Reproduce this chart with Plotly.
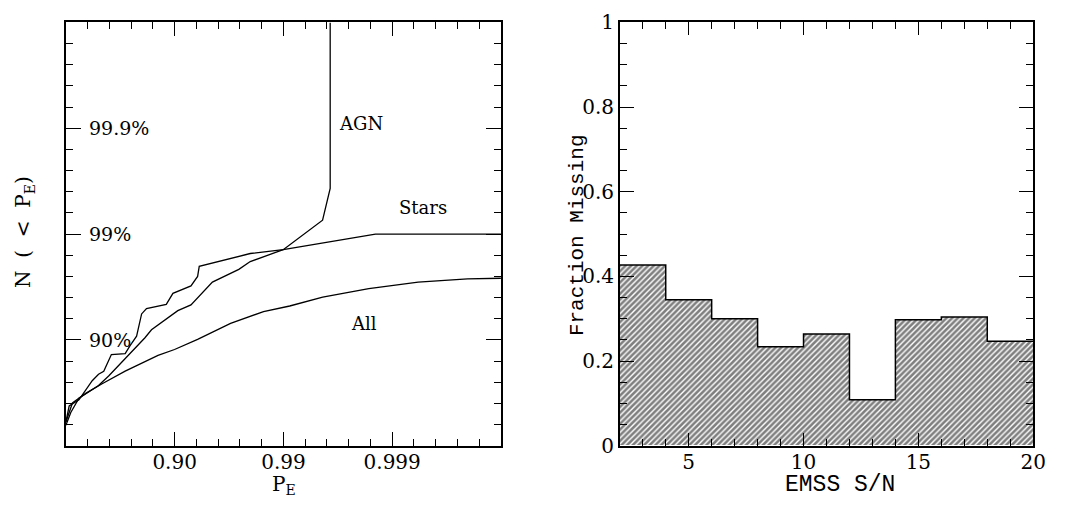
import plotly.graph_objects as go

# ---------------- Left panel data (axis units: -log10(1 - value)) ----------------
pe_tick_vals = [1, 2, 3]
pe_tick_text = ["0.90", "0.99", "0.999"]
conf_levels = [1, 2, 3]
conf_labels = ["90%", "99%", "99.9%"]

stars_x = [0, 0.03, 0.12, 0.242, 0.30, 0.348, 0.418, 0.545, 0.59, 0.65, 0.696, 0.741,
           0.923, 0.984, 1.15, 1.211, 1.226, 1.695, 1.998, 2.846, 4.0]
stars_y = [0.225, 0.376, 0.435, 0.615, 0.676, 0.705, 0.862, 0.871, 0.946, 1.036, 1.246, 1.297,
           1.336, 1.441, 1.511, 1.60, 1.696, 1.817, 1.853, 2.0, 2.0]

agn_x = [0, 0.045, 0.12, 0.30, 0.393, 0.545, 0.605, 0.727, 0.787, 1.029, 1.15, 1.347,
         1.59, 1.695, 1.998, 2.36, 2.43, 2.43]
agn_y = [0.195, 0.315, 0.45, 0.57, 0.66, 0.826, 0.886, 1.021, 1.096, 1.277, 1.331, 1.547,
         1.667, 1.741, 1.853, 2.132, 2.432, 4.0]

all_x = [0, 0.06, 0.182, 0.333, 0.545, 0.847, 0.999, 1.211, 1.514, 1.817, 2.058, 2.361,
         2.785, 3.239, 3.693, 4.0]
all_y = [0.225, 0.405, 0.495, 0.586, 0.705, 0.854, 0.91, 1.006, 1.156, 1.268, 1.321, 1.405,
         1.486, 1.547, 1.577, 1.583]

# ---------------- Right panel data ----------------
sn_edges = [2, 4, 6, 8, 10, 12, 14, 16, 18, 20]
frac_missing = [0.427, 0.345, 0.300, 0.234, 0.264, 0.109, 0.298, 0.304, 0.247]
frac_tick_vals = [0, 0.2, 0.4, 0.6, 0.8, 1]
frac_tick_text = ["0", "0.2", "0.4", "0.6", "0.8", "1"]
sn_tick_vals = [5, 10, 15, 20]

W, H = 1087, 515
SERIF = "DejaVu Serif"
MONO = "Liberation Mono"

fig = go.Figure()

for xs, ys in [(stars_x, stars_y), (agn_x, agn_y), (all_x, all_y)]:
    fig.add_trace(go.Scatter(x=xs, y=ys, mode="lines", xaxis="x", yaxis="y",
                             line=dict(color="black", width=1.3), showlegend=False,
                             hoverinfo="skip"))

centers = [(a + b) / 2 for a, b in zip(sn_edges[:-1], sn_edges[1:])]
widths = [b - a for a, b in zip(sn_edges[:-1], sn_edges[1:])]
fig.add_trace(go.Bar(x=centers, y=frac_missing, width=widths, xaxis="x2", yaxis="y2",
                     marker=dict(color="white", line=dict(width=0),
                                 pattern=dict(shape="/", fgcolor="black", bgcolor="white",
                                              size=4, solidity=0.65)),
                     showlegend=False, hoverinfo="skip"))
fig.add_trace(go.Scatter(x=sn_edges, y=frac_missing + [frac_missing[-1]], mode="lines",
                         line_shape="hv", xaxis="x2", yaxis="y2",
                         line=dict(color="black", width=1.5), showlegend=False,
                         hoverinfo="skip"))

def px_x(p):
    return p / W

def px_y(p):
    return 1 - p / H

axis_common = dict(showline=True, linecolor="black", linewidth=1.5, mirror="allticks",
                   ticks="inside", tickcolor="black", tickwidth=1, showgrid=False,
                   zeroline=False, ticklabeloverflow="allow",
                   tickfont=dict(family=SERIF, size=20, color="black"))

fig.update_layout(
    width=W, height=H, margin=dict(l=0, r=0, t=0, b=0),
    paper_bgcolor="white", plot_bgcolor="white", bargap=0,
    xaxis=dict(domain=[px_x(66.7), px_x(507)], range=[0, 4], tickvals=pe_tick_vals,
               ticktext=pe_tick_text, ticklen=14, anchor="y", ticklabelstandoff=-3,
               minor=dict(dtick=0.2, tick0=0, ticklen=7, ticks="inside", tickcolor="black"),
               **axis_common),
    yaxis=dict(domain=[px_y(455), px_y(11)], range=[0, 4], tickvals=conf_levels,
               ticklen=15, showticklabels=False, anchor="x",
               minor=dict(dtick=0.2, tick0=0, ticklen=7, ticks="inside", tickcolor="black"),
               **axis_common),
    xaxis2=dict(domain=[px_x(627.3), px_x(1045.7)], range=[2, 20], tickvals=sn_tick_vals,
                ticklen=13, anchor="y2", ticklabelstandoff=-3,
                minor=dict(dtick=1, tick0=0, ticklen=7, ticks="inside", tickcolor="black"),
                **axis_common),
    yaxis2=dict(domain=[px_y(455), px_y(11)], range=[0, 1], tickvals=frac_tick_vals,
                ticktext=frac_tick_text, ticklen=14, anchor="x2",
                minor=dict(dtick=0.05, tick0=0, ticklen=7, ticks="inside", tickcolor="black"),
                **axis_common),
)

ann = []
for lv, lab in zip(conf_levels, conf_labels):
    ann.append(dict(x=0.193, y=lv, xref="x", yref="y", text=lab, showarrow=False,
                    xanchor="left", yanchor="middle",
                    font=dict(family=SERIF, size=19, color="black")))
for txt, xx, yy in [("AGN", 2.71, 3.045), ("Stars", 3.28, 2.25), ("All", 2.74, 1.153)]:
    ann.append(dict(x=xx, y=yy, xref="x", yref="y", text=txt, showarrow=False,
                    xanchor="center", yanchor="middle",
                    font=dict(family=SERIF, size=18, color="black")))
# axis titles
ann.append(dict(x=px_x(25), y=px_y(231), xref="paper", yref="paper",
                text="N  (  <  P<sub>E</sub>)", textangle=-90, showarrow=False,
                xanchor="center", yanchor="middle",
                font=dict(family=SERIF, size=20, color="black")))
ann.append(dict(x=px_x(287), y=px_y(496), xref="paper", yref="paper",
                text="P<sub>E</sub>", showarrow=False, xanchor="center", yanchor="middle",
                font=dict(family=SERIF, size=20, color="black")))
ann.append(dict(x=px_x(584), y=px_y(234), xref="paper", yref="paper",
                text="Fraction Missing", textangle=-90, showarrow=False,
                xanchor="center", yanchor="middle",
                font=dict(family=MONO, size=21, color="black")))
ann.append(dict(x=px_x(850), y=px_y(496), xref="paper", yref="paper",
                text="EMSS S/N", showarrow=False, xanchor="center", yanchor="middle",
                font=dict(family=MONO, size=23, color="black")))
fig.update_layout(annotations=ann)

fig.write_html("out.html")
